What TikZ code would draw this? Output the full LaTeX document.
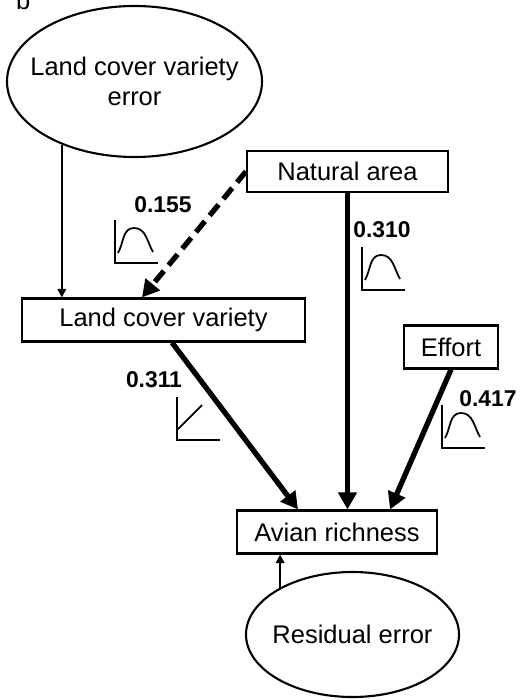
\documentclass[tikz,border=0pt]{standalone}
\usepackage{fontspec}
\setmainfont{Liberation Sans}
\usetikzlibrary{arrows.meta,positioning,shapes.geometric,calc}

\begin{document}
\begin{tikzpicture}[
  box/.style={rectangle, draw, line width=1.2pt,
              font=\fontsize{14.5}{17.5}\selectfont,
              minimum height=0.86cm, inner sep=2pt},
  err/.style={ellipse, draw, line width=1.2pt, align=center,
              font=\fontsize{14.5}{17.5}\selectfont,
              inner xsep=-0.3cm, inner ysep=0pt},
  coef/.style={font=\fontsize{13}{15}\selectfont\bfseries},
  arr/.style={draw,line width=3pt,-{Triangle[length=3.4mm,width=3.6mm]}},
  dasharr/.style={arr,dash pattern=on 2.8mm off 1.5mm},
  thinarr/.style={draw,line width=1pt,-{Triangle[length=1.7mm,width=1.7mm]}},
  hump/.pic={\draw[line width=1pt] (0,0.86) -- (0,0) -- (0.86,0);
             \draw[line width=1pt] (0.06,0.2) to[out=60,in=180] (0.38,0.7)
               to[out=0,in=120] (0.76,0.22);},
  rise/.pic={\draw[line width=1pt] (0,0.86) -- (0,0) -- (0.86,0);
             \draw[line width=1pt] (0.02,0.22) -- (0.5,0.7);}
]
\useasboundingbox (0,0) rectangle (10.5,-14);
\node[font=\fontsize{14.5}{16}\selectfont, anchor=base west] (panel) at (0.2,-0.2) {b};
% variables
\node[err, minimum width=5.1cm, minimum height=3.02cm] (lcve) at (2.69,-1.63)
  {Land cover variety\\error};
\node[box, minimum width=4.02cm, minimum height=0.82cm] (na) at (6.95,-3.43) {Natural area};
\node[box, minimum width=5.66cm] (lcv) at (3.27,-6.40) {Land cover variety};
\node[box, minimum width=1.88cm] (eff) at (9.02,-6.94) {Effort};
\node[box, minimum width=4.0cm] (avian) at (6.74,-10.64) {Avian richness};
\node[err, minimum width=4.26cm, minimum height=2.5cm] (res) at (7.05,-12.69)
  {Residual error};
% paths
\draw[thinarr] (lcve.221) -- (lcve.221 |- lcv.north);
\draw[dasharr] (na.west) -- ($(lcv.north)+(-0.43,0)$);
\draw[arr] (na.south) -- (na.south |- avian.north);
\draw[arr] ($(lcv.south)+(0.17,0)$) -- ($(avian.north)+(-0.78,0)$);
\draw[arr] (eff.south) -- ($(avian.north)+(1.06,0)$);
\draw[thinarr] (res.147) -- (res.147 |- avian.south);
% coefficients and response shapes
\node[coef] (c155) at (3.26,-4.10) {0.155};
\pic at (2.30,-5.26) {hump};
\node[coef] (c310) at (7.64,-4.60) {0.310};
\pic at (7.24,-5.80) {hump};
\node[coef] (c311) at (3.08,-7.60) {0.311};
\pic at (3.54,-8.80) {rise};
\node[coef] (c417) at (9.76,-7.98) {0.417};
\pic at (8.84,-8.96) {hump};
\end{tikzpicture}
\end{document}
